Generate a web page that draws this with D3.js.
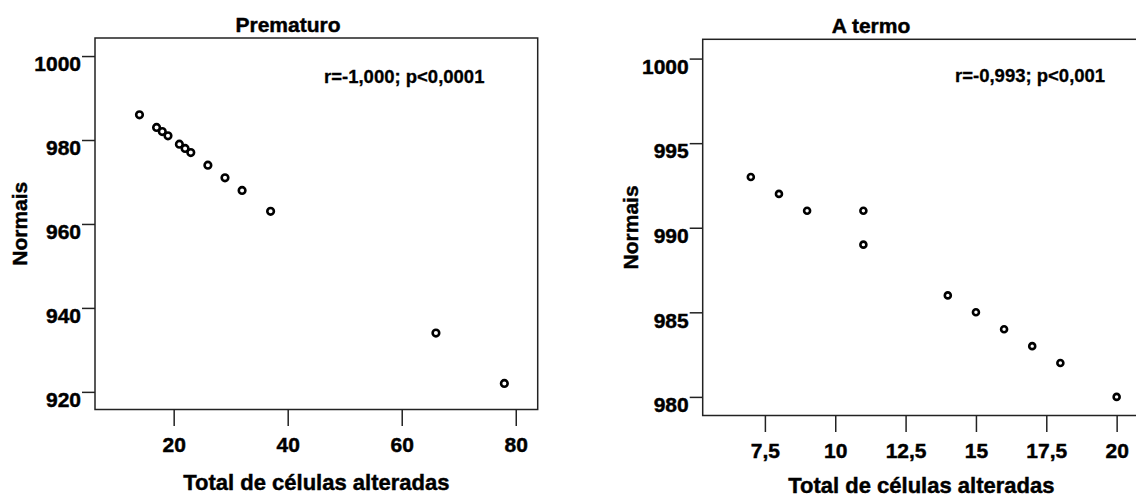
<!DOCTYPE html>
<html lang="pt">
<head>
    <meta charset="UTF-8">
    <title>Normais x Total de células alteradas</title>
    <script src="https://cdn.jsdelivr.net/npm/d3@7/dist/d3.min.js"></script>
    <style>
        body { margin: 0; background: #fff; }
        svg text { font-family: "Liberation Sans", Arial, sans-serif; font-weight: bold; fill: #000; stroke: #000; stroke-width: 0.45px; }
    </style>
</head>
<body>
<svg width="1136" height="498"></svg>
<script>
    // Prematuro
    var pretermTotal = [14, 17, 18, 19, 21, 22, 23, 26, 29, 32, 37, 66, 78];
    var pretermNormais = [986, 983, 982, 981, 979, 978, 977, 974, 971, 968, 963, 934, 922];
    var pretermXTicks = [20, 40, 60, 80];
    var pretermYTicks = [920, 940, 960, 980, 1000];

    // A termo
    var termTotal = [7, 8, 9, 11, 11, 14, 15, 16, 17, 18, 20];
    var termNormais = [993, 992, 991, 991, 989, 986, 985, 984, 983, 982, 980];
    var termXTicks = [7.5, 10, 12.5, 15, 17.5, 20];
    var termYTicks = [980, 985, 990, 995, 1000];

    var svg = d3.select("svg");
    var comma = function (d) { return String(d).replace(".", ","); };

    function drawPanel(p) {
        var x = d3.scaleLinear().domain(p.xDomain).range([p.left, p.right]);
        var y = d3.scaleLinear().domain(p.yDomain).range([p.bottom, p.top]);
        var g = svg.append("g");

        // frame
        g.append("rect")
            .attr("x", p.left).attr("y", p.top)
            .attr("width", p.right - p.left).attr("height", p.bottom - p.top)
            .attr("fill", "none").attr("stroke", "#222").attr("stroke-width", 1.5);

        var yAxis = g.append("g")
            .attr("transform", "translate(" + p.left + ",0)")
            .call(d3.axisLeft(y).tickValues(p.yTicks).tickSize(13).tickPadding(1).tickFormat(comma));
        yAxis.select(".domain").remove();
        yAxis.selectAll("line").attr("stroke", "#222").attr("stroke-width", 1.5);
        yAxis.selectAll("text").attr("dy", "0.7em").style("font-size", "21px");

        var xAxis = g.append("g")
            .attr("transform", "translate(0," + p.bottom + ")")
            .call(d3.axisBottom(x).tickValues(p.xTicks).tickSize(16.5).tickPadding(11).tickFormat(comma));
        xAxis.select(".domain").remove();
        xAxis.selectAll("line").attr("stroke", "#222").attr("stroke-width", 1.5);
        xAxis.selectAll("text").style("font-size", "21px");

        g.selectAll("circle")
            .data(p.xs)
            .enter()
            .append("circle")
            .attr("cx", function (d) { return x(d); })
            .attr("cy", function (d, i) { return y(p.ys[i]); })
            .attr("r", p.r)
            .attr("fill", "#fff")
            .attr("stroke", "#000")
            .attr("stroke-width", 2.6);

        g.append("text").text(p.title)
            .attr("x", p.titleX).attr("y", p.titleY)
            .attr("text-anchor", "middle").style("font-size", "21px");

        g.append("text").text(p.note)
            .attr("x", p.noteX).attr("y", p.noteY)
            .style("font-size", "18.5px").style("stroke-width", "0.3px");

        g.append("text").text("Total de células alteradas")
            .attr("x", (p.left + p.right) / 2).attr("y", p.xTitleY)
            .attr("text-anchor", "middle").style("font-size", "22px");

        g.append("text").text("Normais")
            .attr("transform", "translate(" + p.yTitleX + "," + (p.top + p.bottom) / 2 + ") rotate(-90)")
            .attr("text-anchor", "middle").style("font-size", "21px");
    }

    drawPanel({
        xs: pretermTotal, ys: pretermNormais, xTicks: pretermXTicks, yTicks: pretermYTicks,
        xDomain: [6.2, 83.85], yDomain: [915.8, 1004.3],
        left: 95, right: 537.7, top: 38, bottom: 409.5, r: 3.3,
        title: "Prematuro", titleX: 288, titleY: 32,
        note: "r=-1,000; p<0,0001", noteX: 324, noteY: 83,
        xTitleY: 490, yTitleX: 27
    });

    drawPanel({
        xs: termTotal, ys: termNormais, xTicks: termXTicks, yTicks: termYTicks,
        xDomain: [5.29, 20.83], yDomain: [978.9, 1001.14],
        left: 702.7, right: 1140, top: 39.3, bottom: 415.5, r: 3.0,
        title: "A termo", titleX: 871, titleY: 33,
        note: "r=-0,993; p<0,001", noteX: 955, noteY: 82,
        xTitleY: 493, yTitleX: 638
    });
</script>
</body>
</html>
